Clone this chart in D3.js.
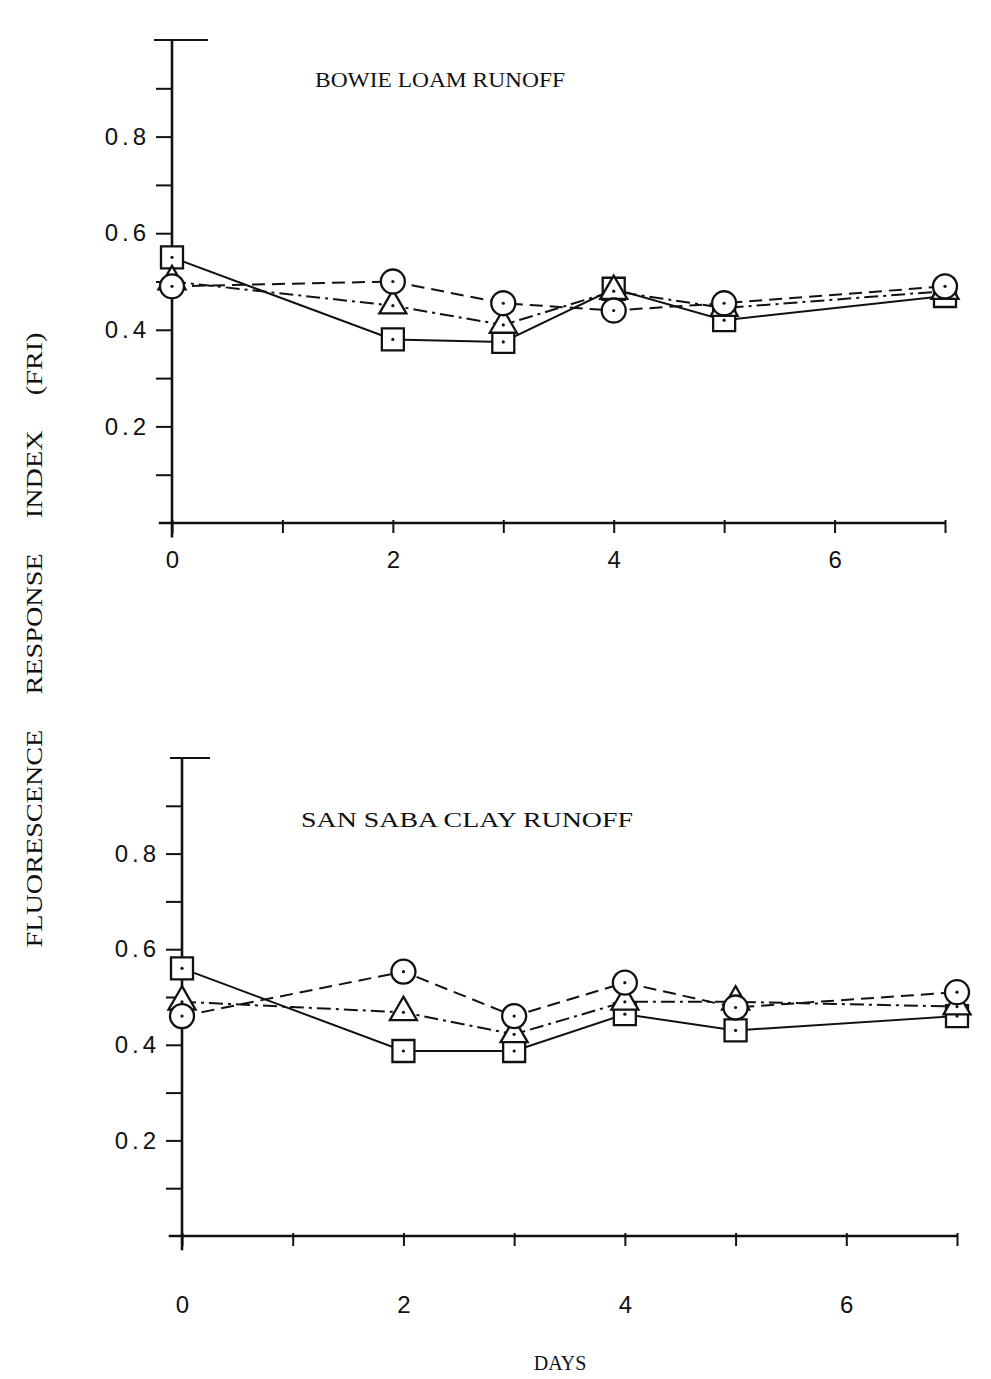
<!DOCTYPE html>
<html>
<head>
<meta charset="utf-8">
<script src="https://cdn.jsdelivr.net/npm/d3@7"></script>
<style>
  html, body { margin: 0; padding: 0; background: #fff; }
  svg { display: block; }
  .tick text { font-family: "Liberation Sans", Arial, sans-serif; }
</style>
</head>
<body>
<script>
// Sampling days
const days = [0, 2, 3, 4, 5, 7];

// Bowie loam runoff (FRI)
const bowieSquare   = [0.55, 0.38, 0.375, 0.485, 0.42, 0.47];
const bowieTriangle = [0.50, 0.45, 0.41, 0.48, 0.445, 0.48];
const bowieCircle   = [0.49, 0.50, 0.455, 0.44, 0.455, 0.49];

// San Saba clay runoff (FRI)
const sanSabaSquare   = [0.56, 0.387, 0.387, 0.464, 0.43, 0.46];
const sanSabaTriangle = [0.49, 0.468, 0.422, 0.49, 0.49, 0.48];
const sanSabaCircle   = [0.46, 0.553, 0.46, 0.53, 0.478, 0.51];

// Axis ticks and labels
const xTicks = [0, 1, 2, 3, 4, 5, 6, 7];
const xLabels = [0, 2, 4, 6];
const yTicks = [0.1, 0.2, 0.3, 0.4, 0.5, 0.6, 0.7, 0.8, 0.9];
const yLabels = [0.2, 0.4, 0.6, 0.8];

const panelTitles = ["BOWIE LOAM RUNOFF", "SAN SABA CLAY RUNOFF"];
const yTitle = "FLUORESCENCE\u2003 RESPONSE\u2003 INDEX\u2003 (FRI)";
const xTitle = "DAYS";

const W = 991, H = 1379;
const svg = d3.select("body").append("svg").attr("width", W).attr("height", H);

const panels = [
  { title: panelTitles[0], squares: bowieSquare, triangles: bowieTriangle, circles: bowieCircle,
    xr: [172, 945], yr: [523, 40], xPad: 18, titleX: 315, titleY: 82, titleLen: 250, cap: [-18, 36] },
  { title: panelTitles[1], squares: sanSabaSquare, triangles: sanSabaTriangle, circles: sanSabaCircle,
    xr: [182, 957], yr: [1236, 758], xPad: 50, titleX: 301, titleY: 822, titleLen: 332, cap: [-12, 28] }
];

const ink = "#111";

panels.forEach(p => {
  const x = d3.scaleLinear().domain([0, 7]).range(p.xr);
  const y = d3.scaleLinear().domain([0, 1]).range(p.yr);
  const g = svg.append("g");

  // y axis
  const yAxis = d3.axisLeft(y)
    .tickValues(yTicks)
    .tickSize(16)
    .tickSizeOuter(0)
    .tickPadding(6)
    .tickFormat(d => yLabels.some(v => Math.abs(v - d) < 1e-9) ? d3.format(".1f")(d) : "");
  const ya = g.append("g").attr("transform", `translate(${x(0)},0)`).call(yAxis);
  ya.select(".domain").remove();
  ya.selectAll(".tick line").attr("stroke", ink).attr("stroke-width", 2);
  ya.selectAll(".tick text")
    .attr("fill", ink)
    .style("font-size", "24px")
    .style("letter-spacing", "4px");

  g.append("line")
    .attr("x1", x(0)).attr("x2", x(0))
    .attr("y1", y(1)).attr("y2", y(-0.03))
    .attr("stroke", ink).attr("stroke-width", 2.6);
  // top cap of the y axis
  g.append("line")
    .attr("x1", x(0) + p.cap[0]).attr("x2", x(0) + p.cap[1])
    .attr("y1", y(1)).attr("y2", y(1))
    .attr("stroke", ink).attr("stroke-width", 2);

  // x axis
  const xAxis = d3.axisBottom(x)
    .tickValues(xTicks)
    .tickSize(10)
    .tickSizeOuter(0)
    .tickPadding(p.xPad)
    .tickFormat(d => xLabels.includes(d) ? String(d) : "");
  const xa = g.append("g").attr("transform", `translate(0,${y(0)})`).call(xAxis);
  xa.select(".domain").remove();
  xa.selectAll(".tick line").attr("stroke", ink).attr("stroke-width", 2).attr("y1", -3);
  xa.selectAll(".tick text").attr("fill", ink).style("font-size", "24px");
  g.append("line")
    .attr("x1", x(-0.12)).attr("x2", x(7))
    .attr("y1", y(0)).attr("y2", y(0))
    .attr("stroke", ink).attr("stroke-width", 2.6);

  // panel title
  g.append("text")
    .attr("x", p.titleX).attr("y", p.titleY)
    .attr("dominant-baseline", "middle")
    .attr("textLength", p.titleLen).attr("lengthAdjust", "spacingAndGlyphs")
    .style("font-family", "'Liberation Serif', 'DejaVu Serif', serif")
    .style("font-size", "21px")
    .attr("fill", ink)
    .text(p.title);

  // series lines
  const series = [
    { vals: p.squares, dash: null, sym: d3.symbolSquare, size: 484 },
    { vals: p.triangles, dash: "14,5,3,5", sym: d3.symbolTriangle, size: 316 },
    { vals: p.circles, dash: "13,7", sym: d3.symbolCircle, size: 452 }
  ];
  const line = d3.line().x(d => x(d[0])).y(d => y(d[1]));
  series.forEach(s => {
    g.append("path")
      .datum(days.map((d, i) => [d, s.vals[i]]))
      .attr("d", line)
      .attr("fill", "none")
      .attr("stroke", ink)
      .attr("stroke-width", 2)
      .attr("stroke-dasharray", s.dash);
  });

  // markers (white-filled with a centre dot)
  series.forEach(s => {
    const mk = g.append("g").selectAll("g")
      .data(days.map((d, i) => [d, s.vals[i]]))
      .join("g")
      .attr("transform", d => `translate(${x(d[0])},${y(d[1])})`);
    mk.append("path")
      .attr("d", d3.symbol().type(s.sym).size(s.size))
      .attr("fill", "#fff")
      .attr("stroke", ink)
      .attr("stroke-width", 2.3);
    mk.append("circle").attr("r", 1.6).attr("fill", ink);
  });
});

// shared y title
svg.append("text")
  .attr("transform", "translate(36,640) rotate(-90)")
  .attr("text-anchor", "middle")
  .attr("dominant-baseline", "middle")
  .attr("textLength", 615).attr("lengthAdjust", "spacingAndGlyphs")
  .style("font-family", "'Liberation Serif', 'DejaVu Serif', serif")
  .style("font-size", "24px")
  .style("white-space", "pre")
  .attr("fill", ink)
  .text(yTitle);

// shared x title
svg.append("text")
  .attr("x", 560).attr("y", 1365)
  .attr("text-anchor", "middle")
  .attr("dominant-baseline", "middle")
  .style("font-family", "'Liberation Serif', 'DejaVu Serif', serif")
  .style("font-size", "20px")
  .attr("fill", ink)
  .text(xTitle);
</script>
</body>
</html>
